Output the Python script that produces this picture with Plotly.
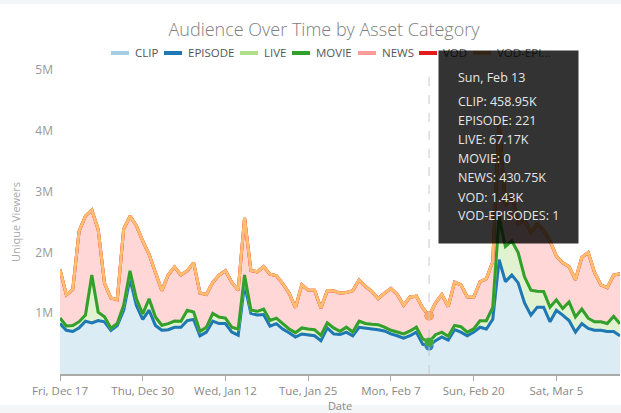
import plotly.graph_objects as go
import pandas as pd

# daily unique viewers per asset category, Dec 17 2021 -> Mar 15 2022
clip = [
    828500, 718200, 699100, 757800, 868300, 838900, 878600, 858100, 718700, 798400,
    1048200, 1568900, 1128300, 898500, 1048700, 798200, 718900, 728400, 768600, 768300,
    878900, 898400, 628700, 688300, 868100, 828600, 828900, 688400, 638700, 1468500,
    998400, 968900, 978300, 788600, 828400, 738700, 678900, 608400, 658600, 638300,
    628800, 548600, 758300, 658900, 648500, 688700, 628300, 768400, 758600, 738200,
    728900, 708300, 658600, 628400, 588700, 628900, 688300, 488600, 458950, 548600,
    608300, 558700, 728300, 688900, 628400, 688600, 768300, 738900, 898400, 1878600,
    1518300, 1628700, 1498400, 1168900, 968300, 1098600, 1098200, 858700, 1048300, 968600,
    878300, 688700, 828400, 748600, 718300, 718800, 698400, 698900, 628300]
episode = [
    512, 438, 377, 465, 601, 529, 488, 540, 402, 455,
    633, 710, 592, 447, 520, 396, 351, 384, 412, 398,
    460, 487, 336, 359, 421, 402, 388, 347, 310, 655,
    472, 431, 455, 368, 390, 344, 301, 276, 322, 298,
    287, 254, 349, 305, 296, 318, 282, 351, 339, 327,
    318, 306, 284, 270, 251, 268, 295, 232, 221, 247,
    266, 243, 318, 296, 274, 301, 352, 340, 415, 893,
    702, 744, 668, 521, 446, 497, 489, 390, 472, 436,
    398, 315, 377, 341, 326, 329, 318, 316, 287]
live = [
    91400, 72300, 98700, 102500, 99800, 788600, 138900, 81200, 32700, 34100,
    82600, 128400, 111900, 88700, 188300, 139600, 82100, 99400, 101800, 98200,
    168700, 121300, 72400, 79800, 128900, 108600, 91200, 79400, 98800, 158300,
    52600, 61800, 88400, 91700, 89300, 88900, 62100, 71400, 98600, 101200,
    99700, 88300, 82400, 98900, 52300, 81700, 61200, 99600, 71300, 79800,
    81400, 61900, 59800, 61300, 71800, 79200, 81600, 88700, 67170, 98300,
    79400, 61800, 71900, 88400, 59700, 52100, 108600, 138200, 198700, 698400,
    578900, 559600, 498700, 428800, 408600, 261400, 258900, 238700, 171300, 108900,
    308400, 251200, 238600, 168900, 141300, 138700, 131800, 248600, 198900]
movie = [
    0, 0, 0, 0, 0, 3, 0, 0, 0, 0,
    0, 1, 0, 0, 0, 0, 0, 0, 0, 0,
    0, 0, 0, 0, 0, 0, 0, 0, 0, 2,
    0, 0, 0, 0, 0, 0, 0, 0, 0, 0,
    0, 0, 0, 0, 0, 0, 0, 0, 0, 0,
    0, 0, 0, 0, 0, 0, 0, 0, 0, 0,
    0, 0, 0, 0, 0, 0, 0, 0, 0, 1,
    0, 0, 0, 0, 0, 0, 0, 0, 0, 0,
    0, 0, 0, 0, 0, 0, 0, 0, 0]
news = [
    797800, 508100, 588300, 1487400, 1627100, 1067500, 1357300, 548000, 498300, 388300,
    1247500, 897200, 1197400, 1197600, 727800, 718100, 568300, 798100, 888000, 758100,
    648100, 807900, 628400, 538400, 508200, 688100, 778000, 738200, 638400, 937700,
    648100, 648200, 698100, 758200, 698200, 658300, 588500, 408600, 708400, 638400,
    648400, 448700, 528500, 608500, 628500, 568500, 678500, 678300, 608400, 538500,
    428500, 558500, 688400, 618500, 468600, 558500, 508500, 508700, 430750, 518600,
    618500, 488600, 708300, 688400, 578500, 518500, 638300, 688300, 748000, 1566200,
    667400, 777200, 467600, 947500, 947700, 1107600, 1007700, 1087800, 718000, 748100,
    578100, 608300, 848000, 1078000, 808200, 608400, 588500, 678300, 818300]
vod = [
    2140, 1870, 1920, 2610, 2880, 2450, 2730, 1960, 1710, 1680,
    2540, 2790, 2620, 2380, 2210, 1950, 1740, 1890, 2010, 1880,
    1930, 2060, 1640, 1610, 1790, 1880, 1950, 1760, 1620, 2340,
    1870, 1840, 1920, 1790, 1780, 1660, 1530, 1380, 1640, 1570,
    1560, 1340, 1540, 1550, 1510, 1520, 1540, 1690, 1600, 1540,
    1450, 1520, 1580, 1490, 1350, 1460, 1470, 1310, 1430, 1390,
    1500, 1350, 1660, 1630, 1480, 1470, 1680, 1720, 1950, 3840,
    2610, 2760, 2390, 2450, 2280, 2390, 2310, 2150, 1980, 1890,
    1850, 1660, 1960, 2030, 1750, 1590, 1540, 1720, 1730]
vod_episodes = [
    3, 1, 2, 4, 5, 2, 3, 1, 0, 1,
    4, 6, 3, 2, 2, 1, 0, 1, 2, 1,
    2, 3, 1, 0, 2, 1, 2, 1, 0, 3,
    2, 1, 2, 1, 1, 0, 1, 0, 2, 1,
    1, 0, 1, 2, 1, 0, 1, 2, 1, 1,
    0, 1, 2, 1, 0, 1, 1, 0, 1, 2,
    1, 0, 2, 1, 1, 0, 2, 1, 3, 5,
    3, 4, 2, 2, 3, 2, 1, 2, 1, 1,
    2, 0, 1, 2, 1, 0, 1, 2, 1]

names = ["CLIP", "EPISODE", "LIVE", "MOVIE", "NEWS", "VOD", "VOD-EPISODES"]
legend_labels = ["CLIP", "EPISODE", "LIVE", "MOVIE", "NEWS", "VOD", "VOD-EPI..."]
series = [clip, episode, live, movie, news, vod, vod_episodes]
hover_day = "2022-02-13"
y_ticks = [1e6, 2e6, 3e6, 4e6, 5e6]

line_colors = ["#a6cee3", "#1f78b4", "#b2df8a", "#33a02c", "#fb9a99", "#e31a1c", "#fdbf6f"]
fill_colors = ["#dbecf5", "#bcd6e8", "#e0f2d0", "#c2e2bf", "#fed7d6", "#f4bbbb", "#fee5c5"]

dates = pd.date_range("2021-12-17", periods=len(clip), freq="D")

# plot area in pixels: x 60..620, y 70..374
def px(x):
    return (x - 60) / 560

def py(y):
    return (374 - y) / 304

fig = go.Figure()

for name, vals, lc, fc in zip(names, series, line_colors, fill_colors):
    fig.add_trace(go.Scatter(x=dates, y=vals, name=name, mode="lines",
                             stackgroup="one", line=dict(color=lc, width=3),
                             fillcolor=fc, showlegend=False, hoverinfo="skip"))

# hover state on Feb 13
idx = dates.get_loc(pd.Timestamp(hover_day))
running = 0
stack_y = []
for vals in series:
    running += vals[idx]
    stack_y.append(running)
fig.add_trace(go.Scatter(x=[dates[idx]] * len(series), y=stack_y, mode="markers",
                         marker=dict(color=line_colors, size=9, opacity=0.85),
                         showlegend=False, hoverinfo="skip"))


def short(v):
    return f"{v / 1000:.2f}K" if v >= 1000 else f"{v:g}"


shapes = [
    dict(type="rect", xref="paper", yref="paper", x0=px(0), x1=px(621), y0=py(0), y1=py(4),
         fillcolor="#f4f5f7", line_width=0, layer="below"),
    dict(type="rect", xref="paper", yref="paper", x0=px(0), x1=px(621), y0=py(405), y1=py(413),
         fillcolor="#f4f5f7", line_width=0, layer="below"),
    dict(type="line", xref="x", yref="paper", x0=dates[idx], x1=dates[idx], y0=0, y1=1,
         line=dict(color="#c8c8c8", width=1, dash="dash")),
]
annotations = []

# custom legend
legend_x = [111, 164, 240, 292, 358, 419, 473]
for lx, label, lc in zip(legend_x, legend_labels, line_colors):
    shapes.append(dict(type="line", xref="paper", yref="paper", x0=px(lx), x1=px(lx + 18),
                       y0=py(53), y1=py(53), line=dict(color=lc, width=4)))
    annotations.append(dict(xref="paper", yref="paper", x=px(lx + 22), y=py(53),
                            xanchor="left", yanchor="middle", text=label, showarrow=False,
                            font=dict(family="Open Sans", size=11.5, color="#555555")))

# tooltip
annotations.append(dict(xref="paper", yref="paper", x=px(438), y=py(50), xanchor="left",
                        yanchor="top", text=" ", showarrow=False, width=139, height=192,
                        borderpad=0, bgcolor="rgba(0,0,0,0.8)"))
tip_lines = [dates[idx].strftime("%a, %b %d")]
tip_lines += [f"{n}: {short(v[idx])}" for n, v in zip(names, series)]
tip_y = [77, 101, 120, 139, 158, 177, 197, 215]
for text, ty in zip(tip_lines, tip_y):
    annotations.append(dict(xref="paper", yref="paper", x=px(456), y=py(ty), xanchor="left",
                            yanchor="middle", text=text, showarrow=False,
                            font=dict(family="Open Sans", size=12.5, color="#e6e6e6")))

fig.update_layout(
    width=621, height=413,
    margin=dict(l=60, r=1, t=70, b=39, autoexpand=False),
    paper_bgcolor="white", plot_bgcolor="white",
    font=dict(family="Open Sans", color="#888888"),
    title=dict(text="Audience Over Time by Asset Category", x=324 / 621, xanchor="center",
               y=1 - 30 / 413, yanchor="middle",
               font=dict(family="Open Sans", size=18, color="#808080", weight=300)),
    showlegend=False,
    shapes=shapes,
    annotations=annotations,
    xaxis=dict(type="date", range=[dates[0], dates[-1]], tick0=dates[0], automargin=False,
               dtick=13 * 86400000, tickformat="%a, %b %-d", showgrid=False, zeroline=False,
               showline=True, linecolor="#aaaaaa", linewidth=1.5, ticks="outside",
               ticklen=5, tickcolor="#aaaaaa", tickfont=dict(size=11.5, color="#888888"),
               title=dict(text="Date", standoff=0, font=dict(size=11, color="#888888"))),
    yaxis=dict(range=[0, 5e6], tickvals=y_ticks, tickformat="~s", showgrid=False,
               automargin=False, zeroline=False, showline=False, ticklabelstandoff=6,
               tickfont=dict(size=12, color="#999999"),
               title=dict(text="Unique Viewers", standoff=12,
                          font=dict(size=11, color="#aaaaaa"))),
)

# drop the default body margin so the figure sits at the window's top-left corner
fig.write_html("out.html", config={"displayModeBar": False},
               post_script="document.body.style.margin = '0';")
